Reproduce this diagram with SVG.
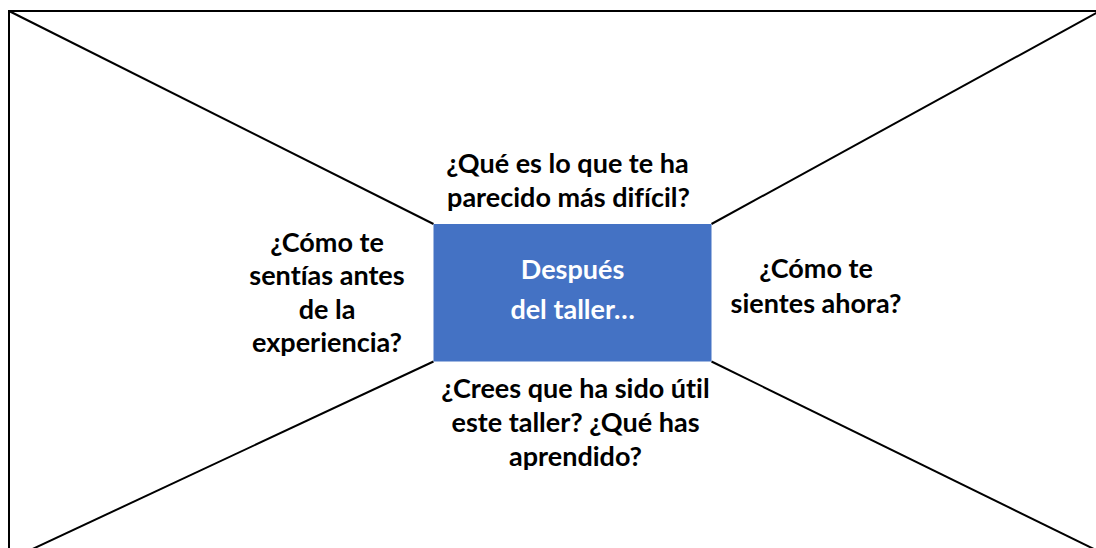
<svg xmlns="http://www.w3.org/2000/svg" width="1096" height="548" viewBox="0 0 1096 548">
  <style>
    .frame { fill: #ffffff; stroke: #000000; stroke-width: 2; }
    .conn { stroke: #000000; stroke-width: 2; fill: none; }
    .box { fill: #4472C4; stroke: none; }
    .lbl { font-family: Lato, "Open Sans", "Liberation Sans", sans-serif; font-weight: bold; font-size: 27px; fill: #000000; text-anchor: middle; font-variant-ligatures: none; font-feature-settings: "liga" 0, "clig" 0; }
    .inner { font-family: Lato, "Open Sans", "Liberation Sans", sans-serif; font-weight: bold; font-size: 27px; fill: #ffffff; text-anchor: middle; font-variant-ligatures: none; font-feature-settings: "liga" 0, "clig" 0; }
  </style>
  <rect x="0" y="0" width="1096" height="548" fill="#ffffff"/>
  <g id="frame">
    <rect class="frame" x="9" y="11" width="1091" height="549"/>
  </g>
  <g id="connectors">
    <line class="conn" x1="9" y1="11" x2="433.5" y2="224"/>
    <line class="conn" x1="1100" y1="11" x2="711.5" y2="224"/>
    <line class="conn" x1="9" y1="560" x2="433.5" y2="361.5"/>
    <line class="conn" x1="1100" y1="552" x2="711.5" y2="361.5"/>
  </g>
  <g id="center">
    <rect class="box" x="433.5" y="224" width="278" height="137.5"/>
    <text class="inner" x="572.6" y="279.3">Después</text>
    <text class="inner" x="572.6" y="319.3">del taller…</text>
  </g>
  <g id="top">
    <text class="lbl" x="567.5" y="173.3">¿Qué es lo que te ha</text>
    <text class="lbl" x="568.5" y="207.3">parecido más difícil?</text>
  </g>
  <g id="left">
    <text class="lbl" x="327" y="251.7">¿Cómo te</text>
    <text class="lbl" x="327" y="285.2">sentías antes</text>
    <text class="lbl" x="327" y="318.7">de la</text>
    <text class="lbl" x="327" y="352.2">experiencia?</text>
  </g>
  <g id="right">
    <text class="lbl" x="816" y="278.3">¿Cómo te</text>
    <text class="lbl" x="816" y="313.3">sientes ahora?</text>
  </g>
  <g id="bottom">
    <text class="lbl" x="575.5" y="398.3">¿Crees que ha sido útil</text>
    <text class="lbl" x="575.5" y="432">este taller? ¿Qué has</text>
    <text class="lbl" x="575.5" y="465.5">aprendido?</text>
  </g>
</svg>
